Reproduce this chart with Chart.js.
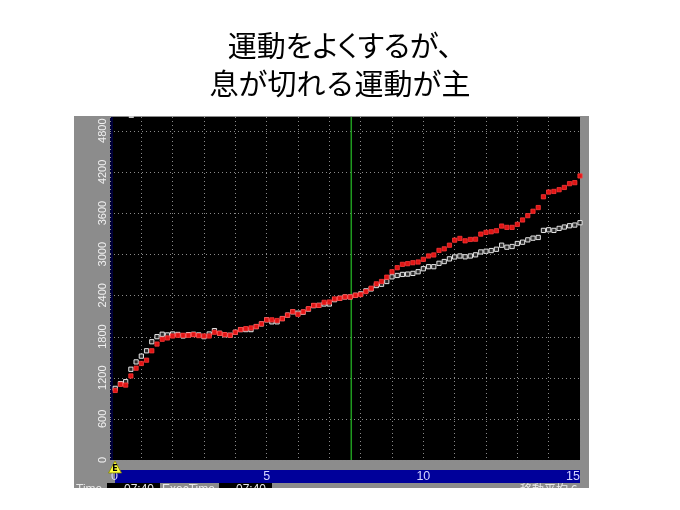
<!DOCTYPE html>
<html>
<head>
<meta charset="utf-8">
<script src="https://cdn.jsdelivr.net/npm/chart.js@4.4.1/dist/chart.umd.min.js"></script>
<style>
  html, body { margin: 0; padding: 0; background: #fff; }
  #wrap { position: relative; width: 680px; height: 510px; overflow: hidden; }
  #chart { position: absolute; left: 0; top: 0; }
  #title {
    position: absolute; left: 0; top: 25px; width: 680px;
    text-align: center; color: #000;
    font-family: "Noto Sans CJK JP", sans-serif; font-size: 29px; line-height: 38px;
  }
  #title .l1 { font-feature-settings: "palt"; }
</style>
</head>
<body>
<div id="wrap">
  <canvas id="chart" width="680" height="510"></canvas>
  <div id="title"><div class="l1">運動をよくするが、</div><div>息が切れる運動が主</div></div>
</div>
<script>
  // Sample interval of the recorder (seconds) - one point every 10 s
  const sampleSec = 10;

  // Axis ticks
  const minuteTicks = [0, 5, 10, 15];
  const yTicks = [0, 600, 1200, 1800, 2400, 3000, 3600, 4200, 4800];

  // Red series (filled squares)
  const redSeries = [
    1014, 1103, 1092, 1225, 1338, 1407, 1455, 1592, 1690, 1760,
    1779, 1808, 1818, 1818, 1818, 1827, 1813, 1808, 1808, 1862,
    1847, 1827, 1818, 1862, 1901, 1915, 1925, 1945, 1984, 2043,
    2043, 2033, 2060, 2112, 2162, 2124, 2160, 2205, 2254, 2254,
    2298, 2303, 2348, 2357, 2377, 2377, 2401, 2411, 2455, 2504,
    2568, 2602, 2665, 2744, 2803, 2852, 2862, 2876, 2886, 2925,
    2974, 2989, 3055, 3078, 3131, 3205, 3230, 3195, 3215, 3219,
    3293, 3318, 3327, 3342, 3410, 3391, 3391, 3435, 3499, 3562,
    3626, 3680, 3837, 3906, 3915, 3940, 3973, 4028, 4043, 4141
  ];

  // White series (hollow squares, moving average)
  const whiteSeries = [
    1044, 1113, 1142, 1323, 1430, 1514, 1592, 1724, 1798, 1833,
    1823, 1837, 1830, 1808, 1827, 1833, 1823, 1798, 1837, 1886,
    1847, 1827, 1818, 1862, 1901, 1901, 1901, 1945, 1984, 2043,
    2014, 2014, 2062, 2112, 2160, 2140, 2155, 2200, 2250, 2254,
    2274, 2274, 2337, 2357, 2377, 2377, 2401, 2421, 2465, 2494,
    2543, 2562, 2602, 2670, 2690, 2705, 2710, 2720, 2744, 2788,
    2818, 2818, 2867, 2893, 2932, 2960, 2974, 2962, 2974, 2991,
    3033, 3043, 3053, 3072, 3131, 3102, 3112, 3156, 3175, 3209,
    3234, 3244, 3347, 3356, 3347, 3376, 3396, 3415, 3425, 3459
  ];

  // Green cursor position (minutes)
  const cursorMinute = 7.7;

  // Bottom status row
  const statusTexts = ['Time', '07:40', 'ExecTime', '07:40', '移動平均 6'];

  const gridDots = '#8a8a8a';

  // x = minutes from start
  function toPoints(values) {
    return values.map((v, i) => ({ x: (i + 1) * sampleSec / 60, y: v }));
  }

  // Gray frame, black plot and blue time bar
  const framePlugin = {
    id: 'frame',
    beforeDraw(chart) {
      const { ctx, chartArea: a } = chart;
      ctx.save();
      ctx.fillStyle = '#8c8c8c';
      ctx.fillRect(74, 116, 515, 372);
      ctx.fillStyle = '#000';
      ctx.fillRect(a.left, a.top, a.right - a.left, a.bottom - a.top);
      ctx.fillStyle = '#000038';
      ctx.fillRect(a.left, a.top, 3, a.bottom - a.top);
      ctx.fillStyle = '#00009a';
      ctx.fillRect(a.left + 5, 470, a.right - a.left - 5, 13);
      ctx.restore();
    },
    beforeDatasetsDraw(chart) {
      const { ctx, chartArea: a, scales: { x, y } } = chart;
      ctx.save();

      // horizontal dotted grid at the value ticks
      ctx.strokeStyle = gridDots;
      ctx.lineWidth = 1;
      ctx.setLineDash([1, 3]);
      yTicks.forEach(v => {
        const py = Math.round(y.getPixelForValue(v)) + 0.5;
        ctx.beginPath();
        ctx.moveTo(a.left, py);
        ctx.lineTo(a.right, py);
        ctx.stroke();
      });
      ctx.setLineDash([]);

      // green cursor
      const px = x.getPixelForValue(cursorMinute);
      ctx.strokeStyle = '#1f9a1f';
      ctx.lineWidth = 1.5;
      ctx.beginPath();
      ctx.moveTo(px, a.top);
      ctx.lineTo(px, a.bottom);
      ctx.stroke();
      ctx.restore();
    },
    afterDraw(chart) {
      const { ctx, chartArea: a, scales: { x, y } } = chart;
      ctx.save();

      // rotated y labels on the gray frame
      ctx.fillStyle = '#f0f0f0';
      ctx.font = '11px "Liberation Sans"';
      ctx.textAlign = 'center';
      ctx.textBaseline = 'middle';
      yTicks.forEach(v => {
        ctx.save();
        ctx.translate(103, y.getPixelForValue(v));
        ctx.rotate(-Math.PI / 2);
        ctx.fillText(String(v), 0, 0);
        ctx.restore();
      });

      // minute labels in the blue bar
      ctx.fillStyle = '#d4d4ff';
      ctx.font = '12.5px "Liberation Sans"';
      ctx.textAlign = 'left';
      minuteTicks.forEach(m => {
        const label = String(m);
        const w = ctx.measureText(label).width;
        let left = x.getPixelForValue(m) - w / 2;
        left = Math.max(a.left + 1, Math.min(a.right - w, left));
        ctx.fillText(label, left, 477);
      });

      // yellow start marker
      const sx = x.getPixelForValue(0) + 5;
      ctx.fillStyle = '#ffff3c';
      ctx.strokeStyle = '#808000';
      ctx.lineWidth = 0.8;
      ctx.beginPath();
      ctx.moveTo(sx, a.bottom + 1);
      ctx.lineTo(sx + 6.5, a.bottom + 13);
      ctx.lineTo(sx - 6.5, a.bottom + 13);
      ctx.closePath();
      ctx.fill();
      ctx.stroke();
      ctx.fillStyle = '#000';
      ctx.font = 'bold 8px "DejaVu Sans"';
      ctx.textAlign = 'center';
      ctx.fillText('E', sx, a.bottom + 9);

      // small marker at the top edge
      ctx.fillStyle = '#c8c8c8';
      ctx.fillRect(x.getPixelForValue(0.6), a.top - 1, 5, 2);

      // status row, cut off by the frame edge
      ctx.beginPath();
      ctx.rect(74, 483, 515, 5);
      ctx.clip();
      ctx.fillStyle = '#000';
      ctx.fillRect(107, 483, 53, 6);
      ctx.fillRect(219, 483, 53, 6);
      ctx.fillStyle = '#e8e8e8';
      ctx.font = '12px "Liberation Sans"';
      ctx.textAlign = 'left';
      ctx.textBaseline = 'top';
      ctx.fillText(statusTexts[0], 76, 484);
      ctx.fillText(statusTexts[1], 124, 484);
      ctx.fillText(statusTexts[2], 162, 484);
      ctx.fillText(statusTexts[3], 236, 484);
      ctx.font = '12px "Noto Sans CJK JP"';
      ctx.fillText(statusTexts[4], 520, 483);
      ctx.restore();
    }
  };

  new Chart(document.getElementById('chart'), {
    type: 'scatter',
    data: {
      datasets: [
        {
          data: toPoints(redSeries),
          pointStyle: 'rect',
          pointRadius: 3,
          backgroundColor: '#e01414',
          borderColor: '#ff3a3a',
          borderWidth: 0.8,
          clip: false,
          order: 0
        },
        {
          data: toPoints(whiteSeries),
          pointStyle: 'rect',
          pointRadius: 3,
          backgroundColor: '#2a2a2a',
          borderColor: '#e6e6e6',
          borderWidth: 1,
          clip: false,
          order: 1
        }
      ]
    },
    options: {
      responsive: false,
      animation: false,
      layout: { padding: { left: 110, top: 117, right: 100, bottom: 50 } },
      scales: {
        x: {
          type: 'linear',
          min: 0,
          max: 15,
          ticks: { display: false, stepSize: 1 },
          grid: { color: gridDots, lineWidth: 1, drawTicks: false },
          border: { display: false, dash: [1, 3] }
        },
        y: {
          type: 'linear',
          display: false,
          min: 0,
          max: 5000
        }
      },
      plugins: {
        legend: { display: false },
        tooltip: { enabled: false }
      }
    },
    plugins: [framePlugin]
  });
</script>
</body>
</html>
